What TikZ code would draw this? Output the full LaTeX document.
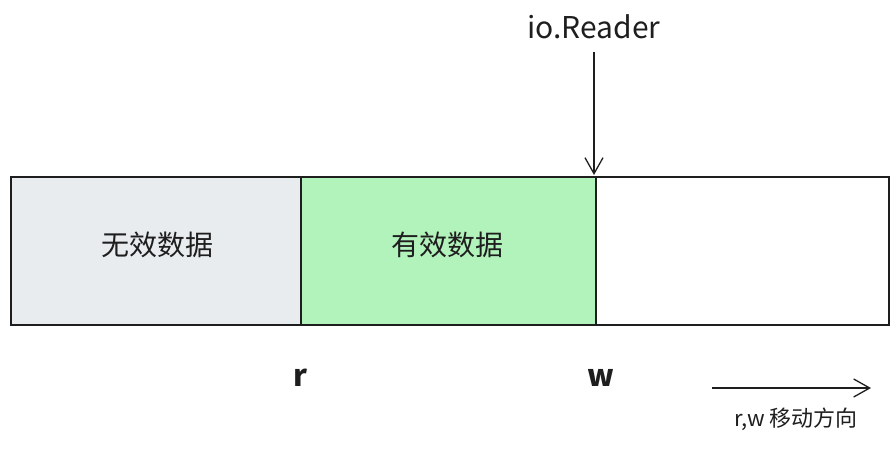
\documentclass[tikz,border=0pt]{standalone}
\usepackage{fontspec}
\setmainfont{Noto Sans CJK SC}
\newfontfamily\cjk{Noto Sans CJK SC}
\usetikzlibrary{arrows.meta}
\definecolor{grayfill}{HTML}{E9ECEF}
\definecolor{greenfill}{HTML}{B2F2BB}
\definecolor{ink}{HTML}{1E1E1E}
\tikzset{
  cell/.style={draw=ink, line width=1.5pt, minimum width=290pt, minimum height=148pt, anchor=north west, inner sep=0pt},
  lbl/.style={text=ink, font=\cjk\fontsize{28}{32}\selectfont},
  hand/.style={text=ink, font=\fontsize{30}{34}\selectfont},
  arr/.style={draw=ink, line width=1.3pt, -{Straight Barb[length=16pt,width=18pt]}}
}
\begin{document}
\begin{tikzpicture}[x=1pt,y=-1pt]
\useasboundingbox (0,0) rectangle (896,448);
\node[cell, fill=grayfill, minimum width=290pt] (invalid) at (10,176) {};
\node[cell, fill=greenfill, minimum width=295pt] (valid) at (300,176) {};
\node[cell, fill=white, minimum width=293pt] (empty) at (595,176) {};
\node[lbl] (tinvalid) at (157,245) {无效数据};
\node[lbl] (tvalid) at (447,245) {有效数据};
\node[hand] (reader) at (594,27) {io.Reader};
\coordinate (rtop) at (594,52);
\coordinate (rbot) at (594,175);
\draw[arr] (rtop) -- (rbot);
\node[hand, font=\bfseries\fontsize{30}{32}\selectfont] (r) at (300,378) {r};
\node[hand, font=\bfseries\fontsize{30}{32}\selectfont] (w) at (601,378) {w};
\coordinate (ms) at (712,388);
\coordinate (me) at (871,388);
\draw[arr] (ms) -- (me);
\node[text=ink, font=\cjk\fontsize{22}{26}\selectfont] (dir) at (796,419) {r,w 移动方向};
\end{tikzpicture}
\end{document}
